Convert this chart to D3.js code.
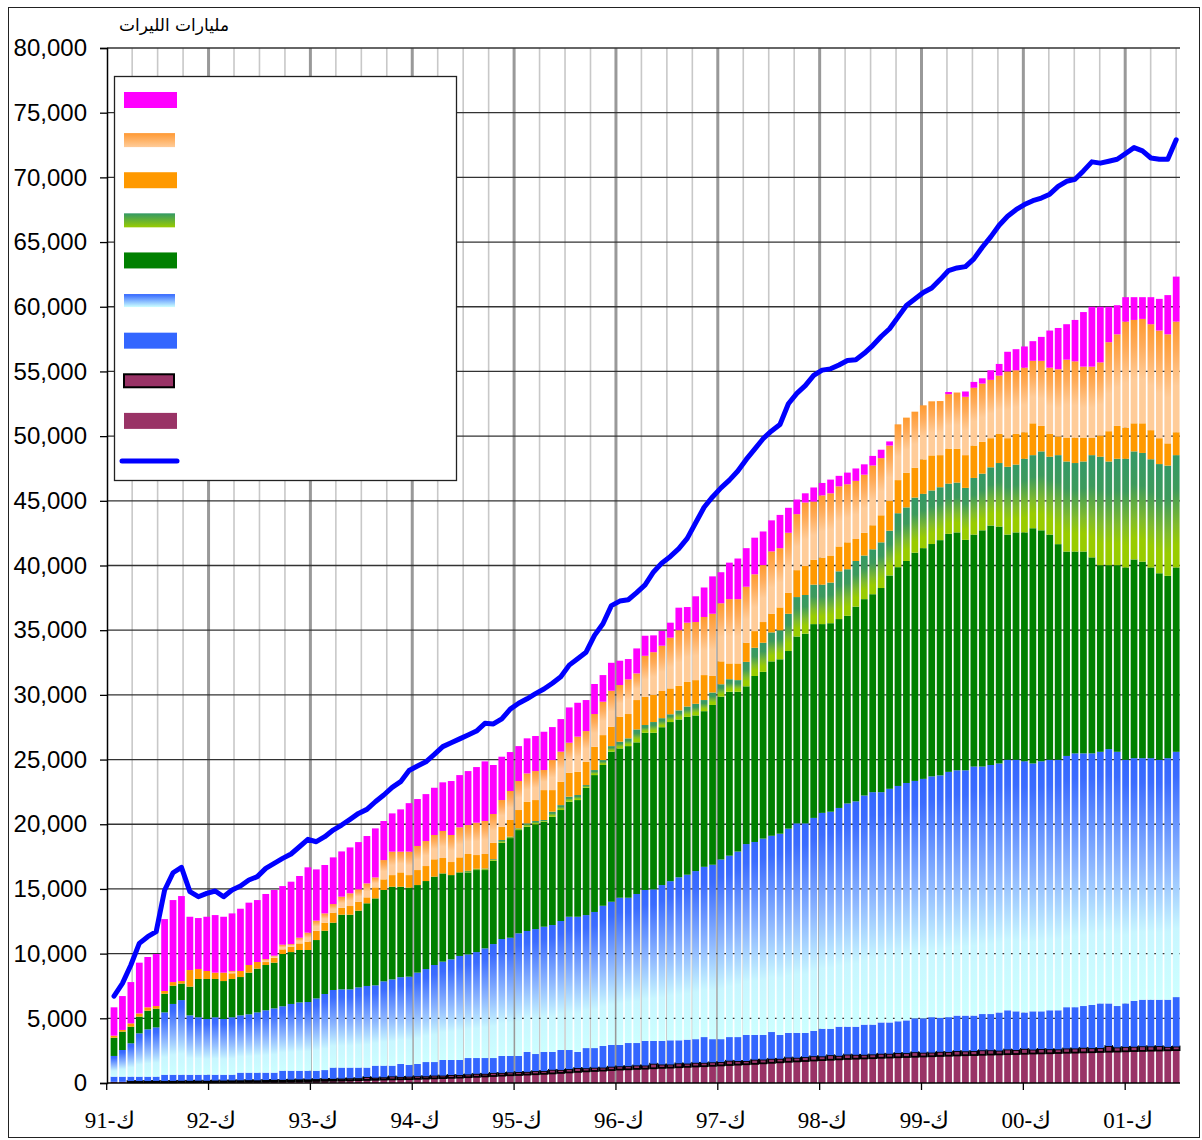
<!DOCTYPE html>
<html>
<head>
<meta charset="utf-8">
<script src="https://cdn.jsdelivr.net/npm/d3@7"></script>
<style>
  html, body { margin: 0; padding: 0; background: #fff; }
  svg { display: block; }
</style>
</head>
<body>
<svg id="chart" width="1202" height="1140"></svg>
<script>
// year labels on the category axis (December of each year)
const yearLabels = ["ك-91", "ك-92", "ك-93", "ك-94", "ك-95", "ك-96", "ك-97", "ك-98", "ك-99", "ك-00", "ك-01"];
const unitLabel = "مليارات الليرات";

// monthly values, Dec 1991 .. Jun 2002, bottom of the stack first
const maroon = [90,90,60,60,60,60,60,60,70,70,70,70,
    80,80,90,90,100,100,110,110,120,130,140,150,
    160,170,180,190,200,220,240,250,270,280,290,300,
    320,340,360,380,400,420,450,480,510,540,570,600,
    620,650,680,710,740,780,820,860,900,930,960,1000,
    1040,1060,1090,1110,1140,1170,1190,1220,1250,1280,1300,1330,
    1360,1390,1420,1450,1480,1520,1560,1600,1640,1670,1700,1740,
    1770,1800,1830,1860,1880,1900,1920,1950,1970,1990,2010,2030,
    2050,2070,2090,2110,2130,2150,2160,2180,2200,2210,2230,2240,
    2260,2280,2290,2300,2320,2340,2350,2370,2380,2400,2420,2430,
    2450,2470,2480,2500,2510,2530,2540];

const maroonBorder = [0,0,90,90,90,100,90,100,100,100,110,100,
    110,110,110,120,120,110,120,130,120,130,140,130,
    140,150,140,150,160,150,220,160,170,230,180,190,
    200,180,210,190,220,200,210,230,200,240,210,220,
    230,210,240,220,280,230,250,300,240,250,230,260,
    250,240,270,240,350,260,240,300,250,280,260,270,
    260,330,280,250,320,290,310,270,330,280,300,330,
    290,350,270,340,300,280,290,310,290,330,300,350,
    290,280,320,290,340,300,310,350,330,290,360,310,
    380,300,340,310,280,330,320,350,310,300,440,320,
    340,330,360,330,340,260,280];

const blue = [400,400,340,340,340,330,490,480,470,470,460,470,
    450,450,440,590,580,590,570,560,710,690,670,670,
    650,680,870,850,830,820,730,930,900,830,1000,910,
    950,1100,1050,1210,1160,1160,1270,1220,1220,1150,1310,1270,
    1240,1540,1320,1470,1380,1540,1480,1240,1560,1520,1670,1680,
    1650,1790,1730,1900,1760,1820,1870,1780,1850,1830,1990,1790,
    1770,1830,1850,2010,1910,1900,2070,1840,1900,1920,1870,1960,
    2130,2040,2250,2150,2170,2330,2300,2420,2420,2450,2530,2620,
    2660,2740,2630,2690,2740,2760,2740,2800,2800,2950,3030,2990,
    2810,2960,2910,3010,3020,3190,3190,3230,3340,3450,3290,3200,
    3360,3550,3600,3610,3590,3650,3820];

const lightBlue = [1600,2060,2580,3350,3660,3810,4820,5470,5770,4590,4440,4310,
    4440,4310,4440,4430,4510,4660,4820,4970,4980,5160,5280,5310,
    5590,5880,6000,6050,6050,6200,6310,6210,6520,6670,6710,6820,
    7060,7190,7500,7600,7780,8040,8010,8190,8480,8810,9040,9140,
    9480,9350,9660,9680,9810,9970,10300,10450,10280,10520,10840,11070,
    11380,11230,11520,11670,11720,12050,12300,12600,12750,12990,13160,13480,
    13890,14020,14340,14760,14920,15180,15170,15560,15790,16200,16200,16460,
    16690,16780,16910,17260,17420,17710,17970,17800,18060,18190,18350,18350,
    18510,18610,18740,18960,18960,18960,19250,19130,19250,19250,19370,19450,
    19420,19160,19330,19370,19370,19420,19620,19530,19450,19450,19660,19650,
    18840,18760,18670,18670,18550,18670,18960];

const green = [1410,1420,1280,1290,1440,1440,1440,1410,1270,2220,2960,3090,
    2960,2930,2960,2960,3220,3380,3500,3530,4040,4010,4050,4020,
    4510,4890,5200,5770,5770,5930,6390,6720,7060,7160,6990,6880,
    6770,6800,6830,6820,6510,6460,6340,6340,6050,6440,7440,7700,
    7980,8060,8090,8120,8370,8580,8890,9020,9840,10580,10880,11600,
    11540,11720,11720,12150,12100,12200,12300,12200,12200,12030,12030,12350,
    12580,12670,12350,12190,12830,12890,13480,13480,13730,14440,14660,14980,
    14590,14570,14600,14500,15050,15180,15300,15780,16490,16910,17160,17640,
    17830,17960,18180,18400,18390,17810,17930,18260,18510,18310,17400,17570,
    17690,18180,17850,17400,16660,15800,15600,15600,15150,14420,14210,14420,
    14860,15360,15190,14740,14410,14090,14250];

const lightGreen = [0,0,0,0,0,0,0,0,0,0,0,0,
    0,0,0,0,0,0,0,0,0,0,0,0,
    0,0,0,0,0,0,0,0,0,0,0,0,
    0,0,0,0,0,0,120,100,120,120,210,110,
    130,260,260,130,390,380,390,390,210,390,380,430,
    520,600,1000,600,830,700,600,700,800,900,860,960,
    960,970,900,1890,2180,2250,2240,2240,2880,3050,2990,3050,
    3050,3140,3690,3600,3530,3370,3470,3530,3460,4170,4140,4260,
    4200,4140,4090,3880,3850,4020,4380,4380,4500,4910,5240,5240,
    5690,5650,6100,6020,6880,6960,6840,6960,7900,8390,8020,8230,
    8400,8350,8400,8360,8440,8520,8680];

const orange = [160,130,260,250,260,210,210,280,200,1280,770,620,
    490,650,440,470,590,510,230,390,360,420,510,640,
    720,620,770,540,670,690,460,850,820,900,1110,970,
    1160,1160,1340,1190,1010,1160,1300,1060,1120,1270,1030,1290,
    1420,1670,1620,2310,1670,1810,1850,1800,1800,1800,1930,1500,
    1930,1880,2270,2190,2100,2100,2000,1900,1900,1830,1930,1280,
    1770,1220,1290,1480,1290,1600,1440,1770,1610,2080,2240,1930,
    2090,2090,1920,2080,1700,1760,1860,2090,2310,2560,2680,2310,
    2660,2710,2480,2700,2620,2530,2500,2460,2250,2250,2210,2370,
    2050,2460,1970,1760,1440,1850,1970,1850,1360,1640,2340,2540,
    2410,2170,2290,2250,2000,1720,1770];

const lightOrange = [0,0,0,0,0,0,0,0,0,0,0,0,
    0,0,180,0,0,0,230,150,360,200,440,700,
    780,720,670,850,980,960,1080,770,1490,1810,1600,1810,
    1860,1930,1880,2090,2090,2320,2240,2500,2550,2220,2060,2240,
    2240,2190,2240,1550,2320,2320,2320,2710,2370,2530,2580,2780,
    2450,2680,2060,3160,3300,3500,3920,4300,4580,4490,4490,4810,
    4490,4970,4970,4330,4390,4400,4820,4580,4650,4330,4910,4490,
    4810,4810,4650,4490,4490,4490,4620,4420,4270,4310,4260,4330,
    4180,4180,4180,4210,4340,4510,4470,4500,4510,4510,5160,4920,
    4990,4830,5030,5120,5200,6020,5890,5480,5480,5650,6880,7080,
    8190,7990,8070,8190,8320,8430,8550];

const magenta = [2190,2620,3190,3920,3890,4020,5560,6340,6570,4120,3940,4190,
    4450,4320,4450,4810,4820,4790,5030,5080,4530,4820,4770,5050,
    3960,3740,3610,3500,3550,3650,3660,3790,3020,2960,3270,3750,
    3630,3630,3650,3760,4170,4040,4170,4300,4610,3790,3350,3010,
    2700,2710,2710,2960,2550,2520,2730,2620,2400,2320,2060,2160,
    1880,1570,1930,1550,1300,1140,1160,1740,1210,1990,2280,2890,
    2400,2820,3140,2980,2830,2600,2400,2570,1930,1130,710,1090,
    960,1060,810,900,960,800,740,650,320,0,0,0,
    0,0,0,170,0,410,450,410,740,900,1520,1630,
    1640,1520,1850,2870,3190,2740,3200,4220,4630,4300,2740,2250,
    1890,1760,1680,2090,2450,3030,3480];

const total = [6720,7700,9120,10790,11310,11700,14900,16250,16670,14790,14400,14660,
    14840,14400,14920,15220,15690,15950,16590,16980,17360,17700,18260,18830,
    18650,19040,19550,19940,20380,20840,21150,21740,22260,22850,23290,24150,
    24500,24830,25400,26000,26300,26600,26900,27200,27800,27750,28150,28900,
    29350,29700,30100,30450,30900,31400,32300,32800,33300,34600,35500,36900,
    37250,37350,37900,38500,39500,40200,40700,41300,42100,43300,44500,45300,
    46000,46600,47300,48200,49000,49800,50400,50900,52500,53300,53900,54700,
    55100,55200,55500,55850,55900,56400,57000,57700,58300,59200,60100,60600,
    61100,61450,62100,62800,63000,63100,63700,64600,65400,66300,67000,67500,
    67900,68200,68400,68700,69300,69700,69850,70500,71200,71100,71250,71400,
    71850,72300,72050,71500,71400,71400,72900];

const width = 1202;
const height = 1140;
const plot = { left: 107, right: 1180, top: 48, bottom: 1083 };
const n = total.length;

let series = [
    { key: "maroon", values: maroon, fill: "#993366" },
    { key: "maroonBorder", values: maroonBorder, fill: "#993366", stroke: "#000" },
    { key: "blue", values: blue, fill: "#3366ff" },
    { key: "lightBlue", values: lightBlue, fill: "url(#barBlue)" },
    { key: "green", values: green, fill: "#008000" },
    { key: "lightGreen", values: lightGreen, fill: "url(#barGreen)" },
    { key: "orange", values: orange, fill: "#ff9900" },
    { key: "lightOrange", values: lightOrange, fill: "url(#barOrange)" },
    { key: "magenta", values: magenta, fill: "#ff00ff" }
];

// one row per month for d3.stack
let table = d3.range(n).map(i => {
    let row = { i: i };
    series.forEach(s => { row[s.key] = s.values[i]; });
    return row;
});

const svg = d3.select("#chart");
svg.append("rect").attr("width", width).attr("height", height).attr("fill", "#fff");

// gradients: the bar ones keep the light colour over the lower part
const defs = svg.append("defs");
function addGradient(id, stops)
{
    let g = defs.append("linearGradient")
        .attr("id", id)
        .attr("x1", 0).attr("y1", 0)
        .attr("x2", 0).attr("y2", 1);
    stops.forEach(s => {
        g.append("stop").attr("offset", s[0]).attr("stop-color", s[1]);
    });
}
addGradient("barBlue", [[0, "#3366ff"], [0.1, "#3b6cff"], [0.45, "#8db7ff"], [0.72, "#c8f6ff"], [1, "#ccffff"]]);
addGradient("barGreen", [[0, "#339966"], [0.3, "#3d9a5c"], [0.62, "#80bb2c"], [0.8, "#99cc00"], [1, "#99cc00"]]);
addGradient("barOrange", [[0, "#ff9a2e"], [0.25, "#ffab58"], [0.58, "#ffcc99"], [1, "#ffcc99"]]);
addGradient("keyBlue", [[0, "#3366ff"], [1, "#ccffff"]]);
addGradient("keyGreen", [[0, "#339966"], [1, "#99cc00"]]);
addGradient("keyOrange", [[0, "#ff9933"], [1, "#ffcc99"]]);

const y = d3.scaleLinear().domain([0, 80000]).range([plot.bottom, plot.top]);
const x = d3.scaleBand()
    .domain(d3.range(n))
    .range([109.8, 1180.4])
    .paddingInner(0.2)
    .paddingOuter(0.1);
// tick marks sit on a month scale of their own (120 months between the first and last label)
const xMonth = d3.scaleLinear().domain([0, 120]).range([106.7, 1125.2]);

// vertical grid: quarters thin, years thick
let quarters = d3.range(0, 127, 3).filter(m => xMonth(m) <= plot.right);
svg.append("g")
    .selectAll("line")
    .data(quarters.filter(m => m % 12 !== 0))
    .enter().append("line")
    .attr("x1", m => xMonth(m)).attr("x2", m => xMonth(m))
    .attr("y1", plot.top).attr("y2", plot.bottom)
    .attr("stroke", "#c8c8c8")
    .attr("stroke-width", 1.6);
svg.append("g")
    .selectAll("line")
    .data(quarters.filter(m => m % 12 === 0 && m > 0))
    .enter().append("line")
    .attr("x1", m => xMonth(m)).attr("x2", m => xMonth(m))
    .attr("y1", plot.top).attr("y2", plot.bottom)
    .attr("stroke", "#999")
    .attr("stroke-width", 3);

// horizontal grid every 5,000
const yTicks = d3.range(0, 80001, 5000);
svg.append("g")
    .selectAll("line")
    .data(yTicks.filter(v => v > 0))
    .enter().append("line")
    .attr("x1", plot.left).attr("x2", plot.right)
    .attr("y1", v => y(v)).attr("y2", v => y(v))
    .attr("stroke", "#333")
    .attr("stroke-width", 1.3);

// stacked bars
let stacked = d3.stack().keys(series.map(s => s.key))(table);
stacked.forEach((layer, k) => {
    let s = series[k];
    svg.append("g")
        .attr("class", "layer " + s.key)
        .selectAll("rect")
        .data(layer.filter(d => d[1] - d[0] > 0))
        .enter().append("rect")
        .attr("x", d => x(d.data.i))
        .attr("y", d => y(d[1]))
        .attr("width", x.bandwidth())
        .attr("height", d => y(d[0]) - y(d[1]))
        .attr("fill", s.fill)
        .attr("stroke", s.stroke || "none")
        .attr("stroke-width", s.stroke ? 1.8 : 0);
});

// total line
const line = d3.line()
    .x((v, i) => x(i) + x.bandwidth() / 2)
    .y(v => y(v));
svg.append("path")
    .datum(total)
    .attr("d", line)
    .attr("fill", "none")
    .attr("stroke", "#0000ff")
    .attr("stroke-width", 5)
    .attr("stroke-linejoin", "round")
    .attr("stroke-linecap", "round");

// y axis
const yAxis = d3.axisLeft(y)
    .tickValues(yTicks)
    .tickSize(7)
    .tickPadding(13)
    .tickFormat(d3.format(","));
let gy = svg.append("g")
    .attr("transform", "translate(" + plot.left + ",0)")
    .call(yAxis);
gy.select(".domain").attr("stroke", "#000").attr("stroke-width", 1.5);
gy.selectAll(".tick line").attr("stroke", "#000").attr("stroke-width", 1.3);
gy.selectAll(".tick text")
    .attr("fill", "#000")
    .style("font-family", "'Liberation Sans', Arial, sans-serif")
    .style("font-size", "24px");

// x axis
svg.append("line")
    .attr("x1", plot.left).attr("x2", plot.right)
    .attr("y1", plot.bottom).attr("y2", plot.bottom)
    .attr("stroke", "#000")
    .attr("stroke-width", 1.5);
let xt = svg.append("g")
    .selectAll("g")
    .data(yearLabels)
    .enter().append("g")
    .attr("transform", (d, k) => "translate(" + xMonth(k * 12) + "," + plot.bottom + ")");
xt.append("line")
    .attr("y1", 0).attr("y2", 7)
    .attr("stroke", "#000")
    .attr("stroke-width", 1.3);
xt.append("text")
    .attr("x", 3)
    .attr("y", 45)
    .attr("text-anchor", "middle")
    .style("font-family", "'Liberation Serif', 'Times New Roman', serif")
    .style("font-size", "23px")
    .text(d => d);

// unit label
svg.append("text")
    .attr("x", 174)
    .attr("y", 31)
    .attr("text-anchor", "middle")
    .style("font-family", "'DejaVu Sans', 'Liberation Sans', sans-serif")
    .style("font-size", "17px")
    .text(unitLabel);

// legend box, swatches only
const legendItems = [
    { fill: "#ff00ff", h: 16, w: 53 },
    { fill: "url(#keyOrange)", h: 14, w: 51 },
    { fill: "#ff9900", h: 16, w: 53 },
    { fill: "url(#keyGreen)", h: 14, w: 51 },
    { fill: "#008000", h: 16, w: 53 },
    { fill: "url(#keyBlue)", h: 13, w: 51 },
    { fill: "#3366ff", h: 16, w: 53 },
    { fill: "#993366", h: 13, w: 50, stroke: "#000" },
    { fill: "#993366", h: 16, w: 53 },
    { line: true }
];
const ly = d3.scaleLinear().domain([0, legendItems.length - 1]).range([100, 461]);
let legend = svg.append("g");
legend.append("rect")
    .attr("x", 114.5).attr("y", 76.5)
    .attr("width", 342).attr("height", 404)
    .attr("fill", "#fff")
    .attr("stroke", "#222")
    .attr("stroke-width", 1.3);
legendItems.forEach((d, k) => {
    if (d.line) {
        legend.append("line")
            .attr("x1", 122).attr("x2", 177)
            .attr("y1", ly(k)).attr("y2", ly(k))
            .attr("stroke", "#0000ff")
            .attr("stroke-width", 5)
            .attr("stroke-linecap", "round");
        return;
    }
    legend.append("rect")
        .attr("x", 124)
        .attr("y", ly(k) - d.h / 2)
        .attr("width", d.w)
        .attr("height", d.h)
        .attr("fill", d.fill)
        .attr("stroke", d.stroke || "none")
        .attr("stroke-width", d.stroke ? 2 : 0);
});

// chart frame
svg.append("rect")
    .attr("x", 8.5).attr("y", 7.5)
    .attr("width", 1191).attr("height", 1130)
    .attr("fill", "none")
    .attr("stroke", "#222")
    .attr("stroke-width", 1);
</script>
</body>
</html>
